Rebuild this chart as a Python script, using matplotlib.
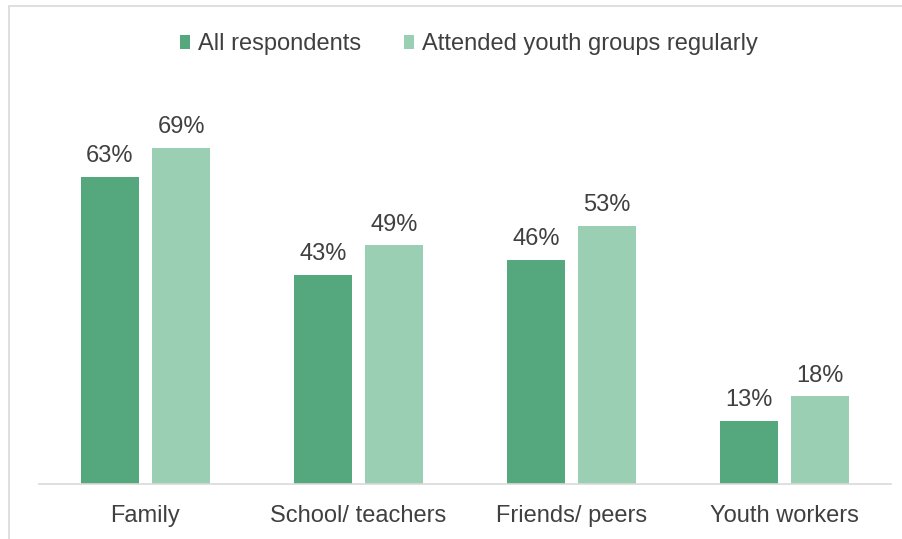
import matplotlib.pyplot as plt
from matplotlib.patches import Rectangle
import numpy as np

plt.rcParams['font.family'] = ['Liberation Sans', 'DejaVu Sans']

categories = ["Family", "School/ teachers", "Friends/ peers", "Youth workers"]
all_resp = [63, 43, 46, 13]
youth_groups = [69, 49, 53, 18]
series_names = ["All respondents", "Attended youth groups regularly"]

dark = "#55A77E"
light = "#9BCFB4"
txt = "#404040"
fs = 17

W, H = 902, 539
fig = plt.figure(figsize=(W / 100, H / 100), dpi=100)
# axes placed in pixel terms: x 39..891, baseline at y=484
ax = fig.add_axes([39 / W, (H - 484) / H, (891 - 39) / W, 0.80])
px_per_pct = 4.87
ymax = 0.80 * H / px_per_pct

x = np.arange(len(categories))
bw = 0.268
off = 0.1667
b1 = ax.bar(x - off, all_resp, bw, color=dark, label=series_names[0])
b2 = ax.bar(x + off, youth_groups, bw, color=light, label=series_names[1])

for bars, vals in [(b1, all_resp), (b2, youth_groups)]:
    for b, v in zip(bars, vals):
        ax.annotate(f"{v}%", (b.get_x() + b.get_width() / 2, v),
                    xytext=(0, 7), textcoords="offset points",
                    ha="center", va="bottom", fontsize=fs, color=txt)

ax.set_xlim(-0.5, 3.5)
ax.set_ylim(0, ymax)
ax.set_xticks(x)
ax.set_xticklabels(categories, fontsize=fs, color=txt)
ax.tick_params(axis="x", length=0, pad=15)
ax.set_yticks([])
for s in ["top", "right", "left"]:
    ax.spines[s].set_visible(False)
ax.spines["bottom"].set_color("#D9D9D9")
ax.spines["bottom"].set_linewidth(1.2)

fig.legend(handles=[b1, b2], loc="center", bbox_to_anchor=(0.52, 1 - 44 / H),
           ncol=2, frameon=False, fontsize=fs, labelcolor=txt,
           handlelength=0.42, handleheight=0.55, handletextpad=0.34,
           columnspacing=1.8)

# outer chart border (only left and top edges show in the crop)
fig.patches.append(Rectangle((9 / W, -0.1), 1.2, 1.1 - 6 / H, fill=False,
                             edgecolor="#D9D9D9", linewidth=1.2,
                             transform=fig.transFigure, figure=fig))

fig.savefig("out.png", dpi=100)
